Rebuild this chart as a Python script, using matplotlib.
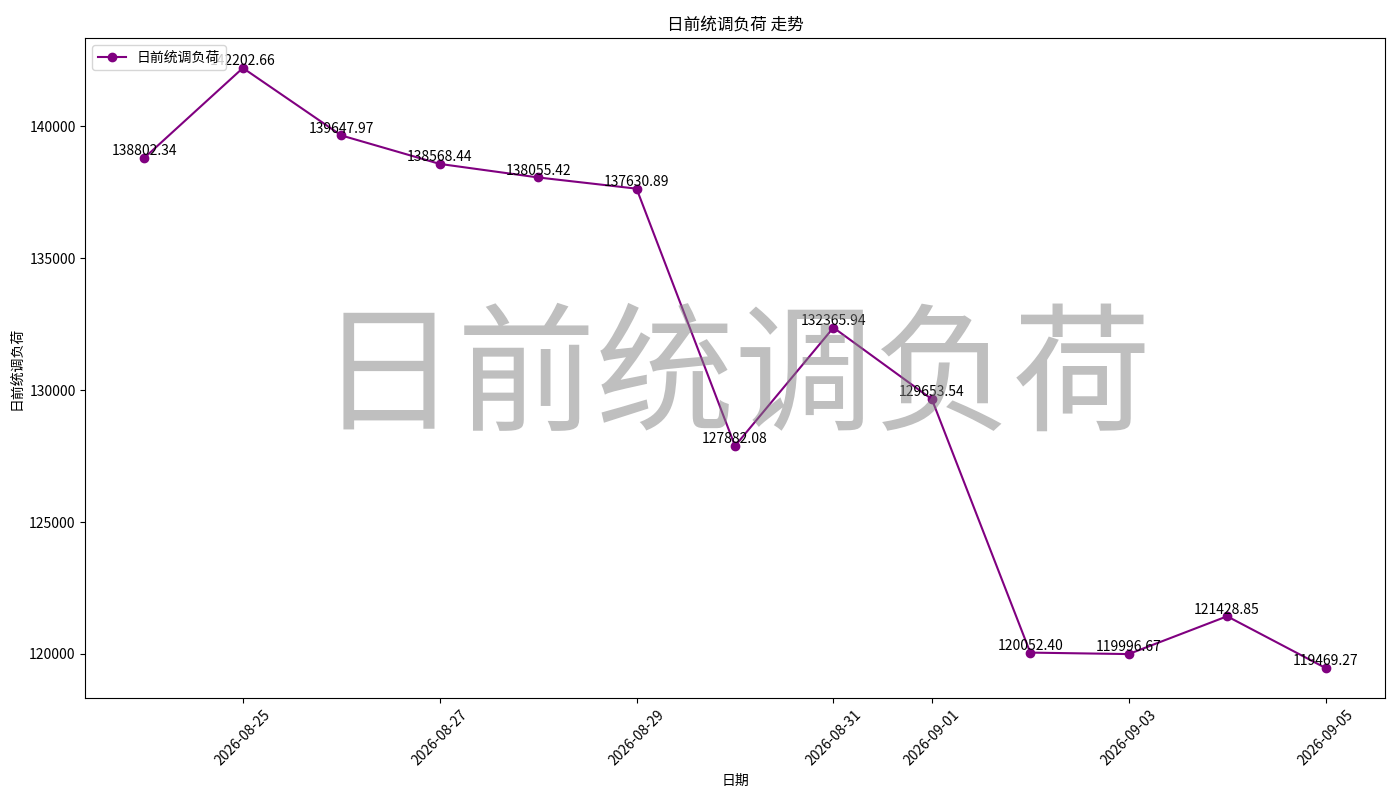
import pandas as pd
import matplotlib
matplotlib.use("Agg")
import matplotlib.pyplot as plt

plt.rcParams['font.family'] = ['Noto Sans CJK SC', 'DejaVu Sans']
plt.rcParams['axes.unicode_minus'] = False

# 数据
dates = pd.date_range("2026-08-24", "2026-09-05", freq="D")
values = [138802.34, 142202.66, 139647.97, 138568.44, 138055.42, 137630.89,
          127882.08, 132365.94, 129653.54, 120052.40, 119996.67, 121428.85,
          119469.27]
name = "日前统调负荷"

fig, ax = plt.subplots(figsize=(14, 8), dpi=100)
ax.plot(dates, values, marker='o', color='purple', label=name)

# 数值标注
for d, v in zip(dates, values):
    ax.annotate(f"{v:.2f}", (d, v), textcoords="offset points", xytext=(0, 2),
                ha='center', fontsize=10)

# 水印
ax.text(0.5, 0.48, name, transform=ax.transAxes, fontsize=100, color='gray',
        alpha=0.5, ha='center', va='center')

ax.set_title(f"{name} 走势")
ax.set_xlabel("日期")
ax.set_ylabel(name)
ax.legend(loc='upper left')
plt.xticks(rotation=45)
plt.subplots_adjust(left=0.061, right=0.989, top=0.9525, bottom=0.1275)
plt.savefig("out.png")
